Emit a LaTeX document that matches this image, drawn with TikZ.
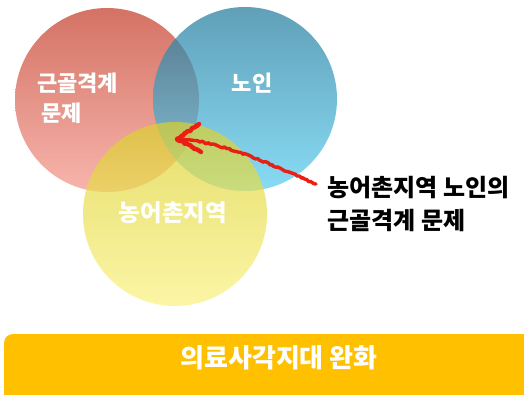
\documentclass[tikz,border=0pt]{standalone}
\usepackage{fontspec}
\newfontfamily\kr{Noto Sans CJK KR}
\usetikzlibrary{decorations.pathmorphing}
\definecolor{redtop}{RGB}{194,55,35}
\definecolor{redbot}{RGB}{245,150,138}
\definecolor{bluetop}{RGB}{30,120,155}
\definecolor{bluebot}{RGB}{86,205,241}
\definecolor{yeltop}{RGB}{219,208,45}
\definecolor{yelbot}{RGB}{251,242,128}
\definecolor{barc}{RGB}{255,192,0}
\definecolor{arrowc}{RGB}{235,30,20}
\tikzset{
  venn/.style={fill opacity=0.7, draw=none},
  inlabel/.style={text=white, font=\kr\bfseries\fontsize{22}{30}\selectfont, inner sep=0pt},
  sidelabel/.style={text=black, font=\kr\bfseries\fontsize{24}{33}\selectfont, align=left, inner sep=0pt, anchor=west},
  handline/.style={draw=arrowc, line width=3.4pt, line cap=round, line join=round,
    decorate, decoration={random steps, segment length=1.8pt, amplitude=0.9pt}},
  handbarb/.style={handline, line width=4.4pt}
}
\begin{document}
\begin{tikzpicture}[x=1pt,y=-1pt]
\useasboundingbox (0,0) rectangle (524,394);
\fill[white] (0,0) rectangle (524,394);
% circles
\shade[venn, top color=redtop, bottom color=redbot] (107,100) circle (92);
\shade[venn, top color=bluetop, bottom color=bluebot] (245,99) circle (92);
\shade[venn, top color=yeltop, bottom color=yelbot] (175,214) circle (92);
% labels in circles
\node[inlabel, align=left, anchor=west] (musc) at (37,98) {근골격계\\\hspace*{4pt}문제};
\node[inlabel] (old) at (252,83) {노인};
\node[inlabel, font=\kr\bfseries\fontsize{23.5}{30}\selectfont] (rural) at (173,213) {농어촌지역};
% side label
\node[sidelabel] (side) at (327,204) {농어촌지역 노인의\\근골격계 문제};
% hand drawn arrow
\coordinate (arrS) at (316,184);
\coordinate (arrT) at (177,139);
\coordinate (barbA) at (199,124);
\coordinate (barbB) at (201,152);
\draw[handline] (arrS) .. controls (262,160) and (215,140) .. (arrT);
\draw[handbarb] (barbA) -- (arrT) -- (barbB);
% bottom bar
\fill[barc, rounded corners=9pt] (4,334) rectangle (540,410);
\node[text=white, font=\kr\bfseries\fontsize{26}{30}\selectfont, inner sep=0pt] (bar) at (279,358) {의료사각지대 완화};
\end{tikzpicture}
\end{document}
